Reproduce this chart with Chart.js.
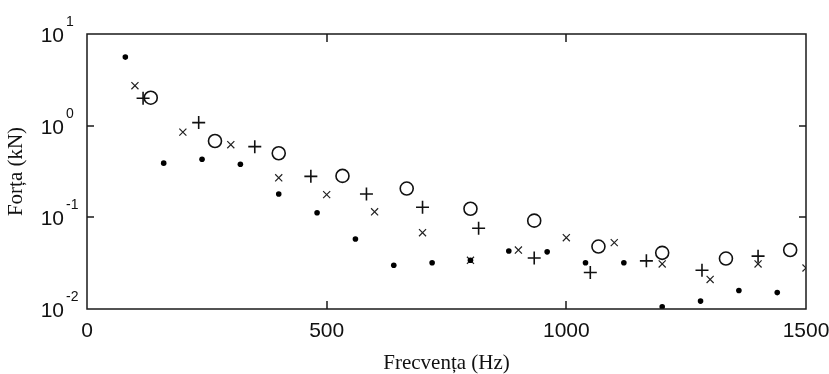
<!DOCTYPE html>
<html>
<head>
<meta charset="utf-8">
<script src="https://cdn.jsdelivr.net/npm/chart.js@4"></script>
<style>
    body { margin: 0; background: #fff; }
    #wrap { width: 829px; height: 374px; }
</style>
</head>
<body>
<div id="wrap"><canvas id="force-chart"></canvas></div>
<script>
/// -------------- DATA --------------- ///

const dotFreq = [80, 160, 240, 320, 400, 480, 560, 640, 720, 800, 880, 960, 1040, 1120, 1200, 1280, 1360, 1440];
const dotForce = [5.6, 0.39, 0.43, 0.38, 0.18, 0.112, 0.058, 0.030, 0.032, 0.034, 0.043, 0.042, 0.032, 0.032, 0.0106, 0.0122, 0.0159, 0.0151];

const crossFreq = [100, 200, 300, 400, 500, 600, 700, 800, 900, 1000, 1100, 1200, 1300, 1400, 1500];
const crossForce = [2.73, 0.85, 0.62, 0.27, 0.177, 0.115, 0.068, 0.034, 0.044, 0.060, 0.053, 0.031, 0.021, 0.031, 0.028];

const plusFreq = [117, 233, 350, 467, 583, 700, 817, 933, 1050, 1167, 1283, 1400];
const plusForce = [1.99, 1.08, 0.59, 0.28, 0.18, 0.129, 0.076, 0.036, 0.025, 0.0335, 0.0265, 0.0377];

const circleFreq = [133, 267, 400, 533, 667, 800, 933, 1067, 1200, 1333, 1467];
const circleForce = [2.02, 0.68, 0.50, 0.283, 0.206, 0.124, 0.092, 0.048, 0.041, 0.0355, 0.044];

const xTicks = [0, 500, 1000, 1500];
const yTicks = [0.01, 0.1, 1, 10];
const yTickPowers = ['-2', '-1', '0', '1'];

const toPoints = (xs, ys) => xs.map((x, i) => ({ x: x, y: ys[i] }));

/// -------------- FRAME + LOG LABELS --------------- ///

const framePlugin = {
    id: 'frame',
    afterDatasetsDraw(chart) {
        const { ctx, chartArea: a, scales: { x, y } } = chart;
        ctx.save();
        ctx.strokeStyle = '#1a1a1a';
        ctx.lineWidth = 1.5;
        ctx.strokeRect(a.left, a.top, a.right - a.left, a.bottom - a.top);

        ctx.beginPath();
        xTicks.slice(1, -1).forEach(v => {
            const px = Math.round(x.getPixelForValue(v));
            ctx.moveTo(px, a.bottom); ctx.lineTo(px, a.bottom - 8);
            ctx.moveTo(px, a.top); ctx.lineTo(px, a.top + 8);
        });
        yTicks.slice(1, -1).forEach(v => {
            const py = Math.round(y.getPixelForValue(v));
            ctx.moveTo(a.left, py); ctx.lineTo(a.left + 7, py);
            ctx.moveTo(a.right, py); ctx.lineTo(a.right - 7, py);
        });
        ctx.stroke();

        ctx.fillStyle = '#111';
        ctx.textBaseline = 'alphabetic';
        yTicks.forEach((v, i) => {
            const py = y.getPixelForValue(v);
            ctx.font = '21px "Liberation Sans"';
            ctx.textAlign = 'right';
            ctx.fillText('10', a.left - 23, py + 8);
            ctx.font = '14px "Liberation Sans"';
            ctx.textAlign = 'left';
            ctx.fillText(yTickPowers[i], a.left - 21, py - 8);
        });
        ctx.restore();
    }
};

/// -------------- CHART --------------- ///

new Chart(document.getElementById('force-chart'), {
    type: 'scatter',
    data: {
        datasets: [
            {
                data: toPoints(dotFreq, dotForce),
                pointStyle: 'circle',
                pointRadius: 2.8,
                backgroundColor: '#000',
                borderColor: '#000',
                borderWidth: 0
            },
            {
                data: toPoints(crossFreq, crossForce),
                pointStyle: 'crossRot',
                pointRadius: 5,
                borderColor: '#222',
                borderWidth: 1.2
            },
            {
                data: toPoints(plusFreq, plusForce),
                pointStyle: 'cross',
                pointRadius: 6.5,
                borderColor: '#111',
                borderWidth: 1.6
            },
            {
                data: toPoints(circleFreq, circleForce),
                pointStyle: 'circle',
                pointRadius: 6.5,
                backgroundColor: 'rgba(0,0,0,0)',
                borderColor: '#111',
                borderWidth: 1.6
            }
        ]
    },
    options: {
        responsive: true,
        maintainAspectRatio: false,
        animation: false,
        events: [],
        layout: {
            padding: { top: 34, right: 23, left: 0, bottom: 0 }
        },
        plugins: {
            legend: { display: false },
            tooltip: { enabled: false }
        },
        scales: {
            x: {
                type: 'linear',
                min: 0,
                max: 1500,
                afterBuildTicks: scale => {
                    scale.ticks = xTicks.map(v => ({ value: v }));
                },
                afterFit: scale => {
                    scale.height = 65;
                    scale.paddingLeft = 0;
                    scale.paddingRight = 0;
                },
                grid: { display: false, drawTicks: false },
                border: { display: false },
                ticks: {
                    padding: 10,
                    color: '#111',
                    maxRotation: 0,
                    callback: value => String(value),
                    font: { family: 'Liberation Sans', size: 21 }
                },
                title: {
                    display: true,
                    text: 'Frecvența (Hz)',
                    color: '#111',
                    padding: { top: 0, bottom: 0 },
                    font: { family: 'Liberation Serif', size: 21, lineHeight: 1 }
                }
            },
            y: {
                type: 'logarithmic',
                min: 0.01,
                max: 10,
                afterBuildTicks: scale => {
                    scale.ticks = yTicks.map(v => ({ value: v }));
                },
                afterFit: scale => {
                    scale.width = 87;
                },
                grid: { display: false, drawTicks: false },
                border: { display: false },
                ticks: { display: false },
                title: {
                    display: true,
                    text: 'Forța (kN)',
                    color: '#111',
                    padding: { top: 4, bottom: 0 },
                    font: { family: 'Liberation Serif', size: 21, lineHeight: 1.2 }
                }
            }
        }
    },
    plugins: [framePlugin]
});
</script>
</body>
</html>
